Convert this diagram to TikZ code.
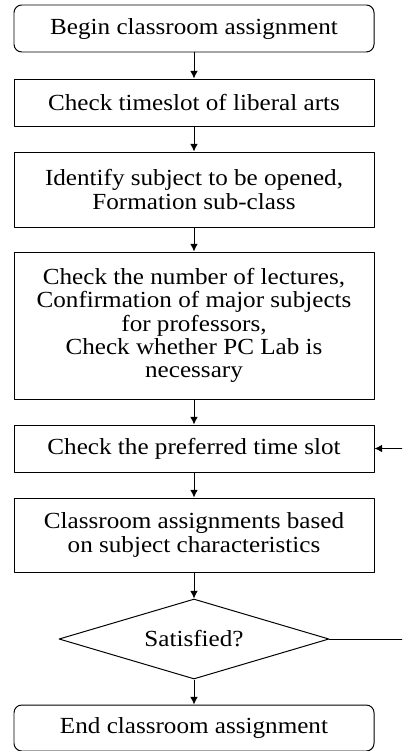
\documentclass[tikz,border=0pt]{standalone}
\usepackage{fontspec}
\setmainfont{Liberation Serif}[FakeStretch=1.09]
\usetikzlibrary{shapes.geometric, arrows.meta}

\begin{document}
\begin{tikzpicture}[line join=round,
  process/.style={draw, line width=0.7pt, minimum width=9cm, align=center, inner sep=0pt,
    font=\fontsize{16.4}{16.6}\selectfont},
  terminal/.style={process, rounded corners=5.5pt},
  decision/.style={draw, diamond, aspect=3.375, line width=0.7pt, minimum width=6.75cm,
    minimum height=2cm, inner sep=0pt, font=\fontsize{16.4}{16.6}\selectfont},
  flow/.style={-{Latex[length=5.5pt,width=5.5pt]}, line width=0.7pt}]

\useasboundingbox (0,0) rectangle (10.05,-18.775);

\node[terminal, minimum height=1.175cm] (begin) at (4.85,-0.7125) {Begin classroom assignment};
\node[process, minimum height=1.175cm] (timeslot) at (4.85,-2.5625) {Check timeslot of liberal arts};
\node[process, minimum height=1.875cm] (subject) at (4.85,-4.7375) {Identify subject to be opened,\\Formation sub-class};
\node[process, minimum height=3.675cm] (lectures) at (4.85,-8.1375) {Check the number of lectures,\\Confirmation of major subjects\\for professors,\\Check whether PC Lab is\\necessary};
\node[process, minimum height=1.175cm] (preferred) at (4.85,-11.2125) {Check the preferred time slot};
\node[process, minimum height=1.85cm] (assign) at (4.85,-13.375) {Classroom assignments based\\on subject characteristics};
\node[decision] (satisfied) at (4.85,-15.975) {Satisfied?};
\node[terminal, minimum height=1.15cm] (stop) at (4.85,-18.2) {End classroom assignment};

\draw[flow] (begin) -- (timeslot);
\draw[flow] (timeslot) -- (subject);
\draw[flow] (subject) -- (lectures);
\draw[flow] (lectures) -- (preferred);
\draw[flow] (preferred) -- (assign);
\draw[flow] (assign) -- (satisfied);
\draw[flow] (satisfied) -- (stop);

% loop back, vertical part lies past the right edge
\begin{scope}
\clip (0,0) rectangle (10.05,-18.775);
\coordinate (back) at (10.2,-15.975);
\draw[flow] (satisfied.east) -- (back) |- (preferred.east);
\end{scope}

\end{tikzpicture}
\end{document}
